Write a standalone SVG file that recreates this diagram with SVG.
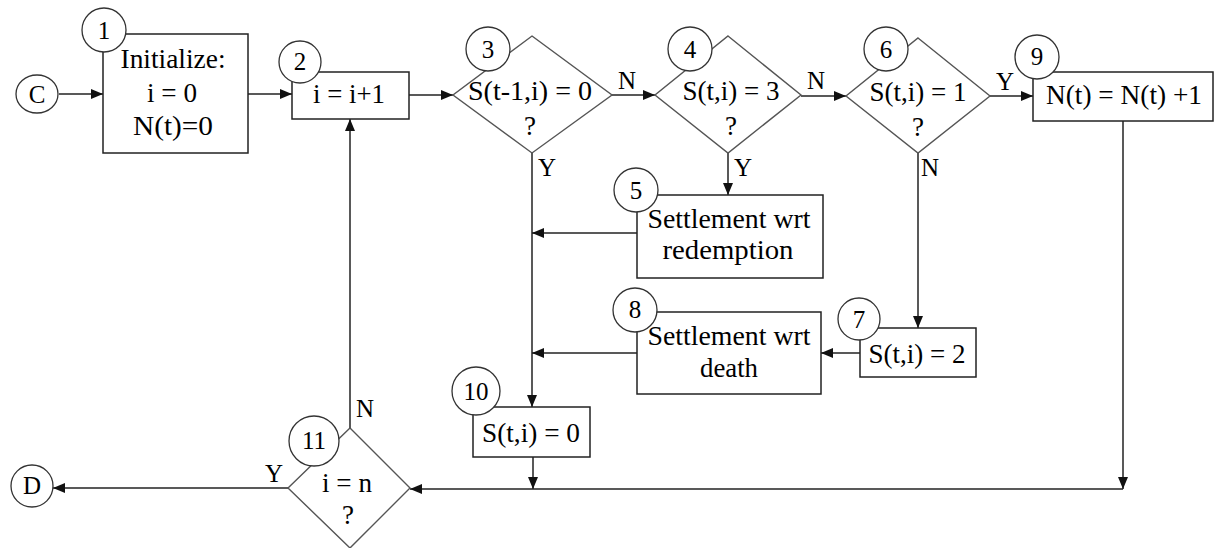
<svg xmlns="http://www.w3.org/2000/svg" width="1215" height="548" viewBox="0 0 1215 548">
<style>
  .box { fill: #fff; stroke: #222; stroke-width: 1.5; }
  .dia { fill: #fff; stroke: #555; stroke-width: 1.4; }
  .num { fill: #fff; stroke: #333; stroke-width: 1.3; }
  .t { font-family: "Liberation Serif", "Times New Roman", serif; font-size: 27px; fill: #000; text-anchor: middle; }
  .n { font-family: "Liberation Serif", "Times New Roman", serif; font-size: 25px; fill: #000; text-anchor: middle; }
  .ln { fill: none; stroke: #222; stroke-width: 1.5; }
</style>
<defs>
  <marker id="arr" markerUnits="userSpaceOnUse" markerWidth="12" markerHeight="10" refX="12" refY="5" orient="auto">
    <path d="M0,0 L12,5 L0,10 z" fill="#111"/>
  </marker>
</defs>
<rect width="1215" height="548" fill="#fff"/>

<g id="connectors">
  <line class="ln" x1="59" y1="94" x2="103" y2="94" marker-end="url(#arr)"/>
  <line class="ln" x1="248" y1="94" x2="292" y2="94" marker-end="url(#arr)"/>
  <line class="ln" x1="409" y1="95" x2="453" y2="95" marker-end="url(#arr)"/>
  <line class="ln" x1="612" y1="95" x2="655" y2="95" marker-end="url(#arr)"/>
  <line class="ln" x1="801" y1="96" x2="846" y2="96" marker-end="url(#arr)"/>
  <line class="ln" x1="990" y1="96" x2="1033" y2="96" marker-end="url(#arr)"/>
  <line class="ln" x1="532" y1="153" x2="532" y2="407" marker-end="url(#arr)"/>
  <line class="ln" x1="728" y1="153" x2="728" y2="195" marker-end="url(#arr)"/>
  <line class="ln" x1="637" y1="233" x2="532" y2="233" marker-end="url(#arr)"/>
  <line class="ln" x1="918" y1="153" x2="918" y2="328" marker-end="url(#arr)"/>
  <line class="ln" x1="860" y1="353" x2="821" y2="353" marker-end="url(#arr)"/>
  <line class="ln" x1="637" y1="353" x2="532" y2="353" marker-end="url(#arr)"/>
  <line class="ln" x1="533" y1="457" x2="533" y2="489" marker-end="url(#arr)"/>
  <line class="ln" x1="1123" y1="121" x2="1123" y2="489" marker-end="url(#arr)"/>
  <line class="ln" x1="1123" y1="489" x2="410" y2="489" marker-end="url(#arr)"/>
  <line class="ln" x1="288" y1="488" x2="53" y2="488" marker-end="url(#arr)"/>
  <line class="ln" x1="350" y1="428" x2="350" y2="119" marker-end="url(#arr)"/>
  <text class="n" x="627" y="89">N</text>
  <text class="n" x="816" y="89">N</text>
  <text class="n" x="1005" y="90">Y</text>
  <text class="n" x="547" y="176">Y</text>
  <text class="n" x="743" y="176">Y</text>
  <text class="n" x="930" y="176">N</text>
  <text class="n" x="365" y="417">N</text>
  <text class="n" x="274" y="482">Y</text>
</g>

<g id="nodeC">
  <ellipse class="num" cx="37" cy="94" rx="21" ry="19"/>
  <text class="n" x="37" y="103">C</text>
</g>

<g id="node1">
  <rect class="box" x="103" y="34" width="145" height="119"/>
  <circle class="num" cx="104" cy="30" r="22"/>
  <text class="n" x="104" y="39">1</text>
  <text class="t" x="173" y="68" textLength="105" lengthAdjust="spacingAndGlyphs">Initialize:</text>
  <text class="t" x="172" y="102" textLength="50" lengthAdjust="spacingAndGlyphs">i = 0</text>
  <text class="t" x="173" y="135" textLength="80" lengthAdjust="spacingAndGlyphs">N(t)=0</text>
</g>

<g id="node2">
  <rect class="box" x="292" y="72" width="117" height="47"/>
  <circle class="num" cx="300" cy="62" r="21"/>
  <text class="n" x="300" y="70">2</text>
  <text class="t" x="349" y="103" textLength="72" lengthAdjust="spacingAndGlyphs">i = i+1</text>
</g>

<g id="node3">
  <polygon class="dia" points="532,36 612,95 532,153 453,95"/>
  <circle class="num" cx="488" cy="49" r="22"/>
  <text class="n" x="488" y="58">3</text>
  <text class="t" x="530" y="100" textLength="124" lengthAdjust="spacingAndGlyphs">S(t-1,i) = 0</text>
  <text class="t" x="530" y="135">?</text>
</g>

<g id="node4">
  <polygon class="dia" points="728,36 801,95 728,153 655,95"/>
  <circle class="num" cx="690" cy="49" r="22"/>
  <text class="n" x="690" y="58">4</text>
  <text class="t" x="731" y="100" textLength="97" lengthAdjust="spacingAndGlyphs">S(t,i) = 3</text>
  <text class="t" x="731" y="135">?</text>
</g>

<g id="node6">
  <polygon class="dia" points="918,38 990,96 918,153 846,96"/>
  <circle class="num" cx="886" cy="49" r="22"/>
  <text class="n" x="886" y="58">6</text>
  <text class="t" x="918" y="101" textLength="97" lengthAdjust="spacingAndGlyphs">S(t,i) = 1</text>
  <text class="t" x="918" y="136">?</text>
</g>

<g id="node9">
  <rect class="box" x="1033" y="72" width="180" height="49"/>
  <circle class="num" cx="1037" cy="57" r="22"/>
  <text class="n" x="1037" y="65">9</text>
  <text class="t" x="1124" y="104" textLength="156" lengthAdjust="spacingAndGlyphs">N(t) = N(t) +1</text>
</g>

<g id="node5">
  <rect class="box" x="637" y="195" width="186" height="83"/>
  <circle class="num" cx="636" cy="190" r="22"/>
  <text class="n" x="636" y="199">5</text>
  <text class="t" x="729" y="228" textLength="163" lengthAdjust="spacingAndGlyphs">Settlement wrt</text>
  <text class="t" x="728" y="259" textLength="131" lengthAdjust="spacingAndGlyphs">redemption</text>
</g>

<g id="node8">
  <rect class="box" x="637" y="312" width="184" height="82"/>
  <circle class="num" cx="635" cy="310" r="22"/>
  <text class="n" x="635" y="318">8</text>
  <text class="t" x="729" y="345" textLength="163" lengthAdjust="spacingAndGlyphs">Settlement wrt</text>
  <text class="t" x="729" y="377" textLength="58" lengthAdjust="spacingAndGlyphs">death</text>
</g>

<g id="node7">
  <rect class="box" x="860" y="328" width="116" height="49"/>
  <circle class="num" cx="859" cy="319" r="21"/>
  <text class="n" x="859" y="328">7</text>
  <text class="t" x="917" y="363" textLength="97" lengthAdjust="spacingAndGlyphs">S(t,i) = 2</text>
</g>

<g id="node10">
  <rect class="box" x="473" y="407" width="117" height="50"/>
  <circle class="num" cx="476" cy="391" r="24"/>
  <text class="n" x="476" y="400">10</text>
  <text class="t" x="531" y="442" textLength="98" lengthAdjust="spacingAndGlyphs">S(t,i) = 0</text>
</g>

<g id="node11">
  <polygon class="dia" points="350,428 410,488 350,548 288,488"/>
  <circle class="num" cx="314" cy="441" r="25"/>
  <text class="n" x="314" y="449">11</text>
  <text class="t" x="347" y="492" textLength="50" lengthAdjust="spacingAndGlyphs">i = n</text>
  <text class="t" x="348" y="524">?</text>
</g>

<g id="nodeD">
  <circle class="num" cx="32" cy="486" r="21"/>
  <text class="n" x="32" y="494">D</text>
</g>
</svg>
